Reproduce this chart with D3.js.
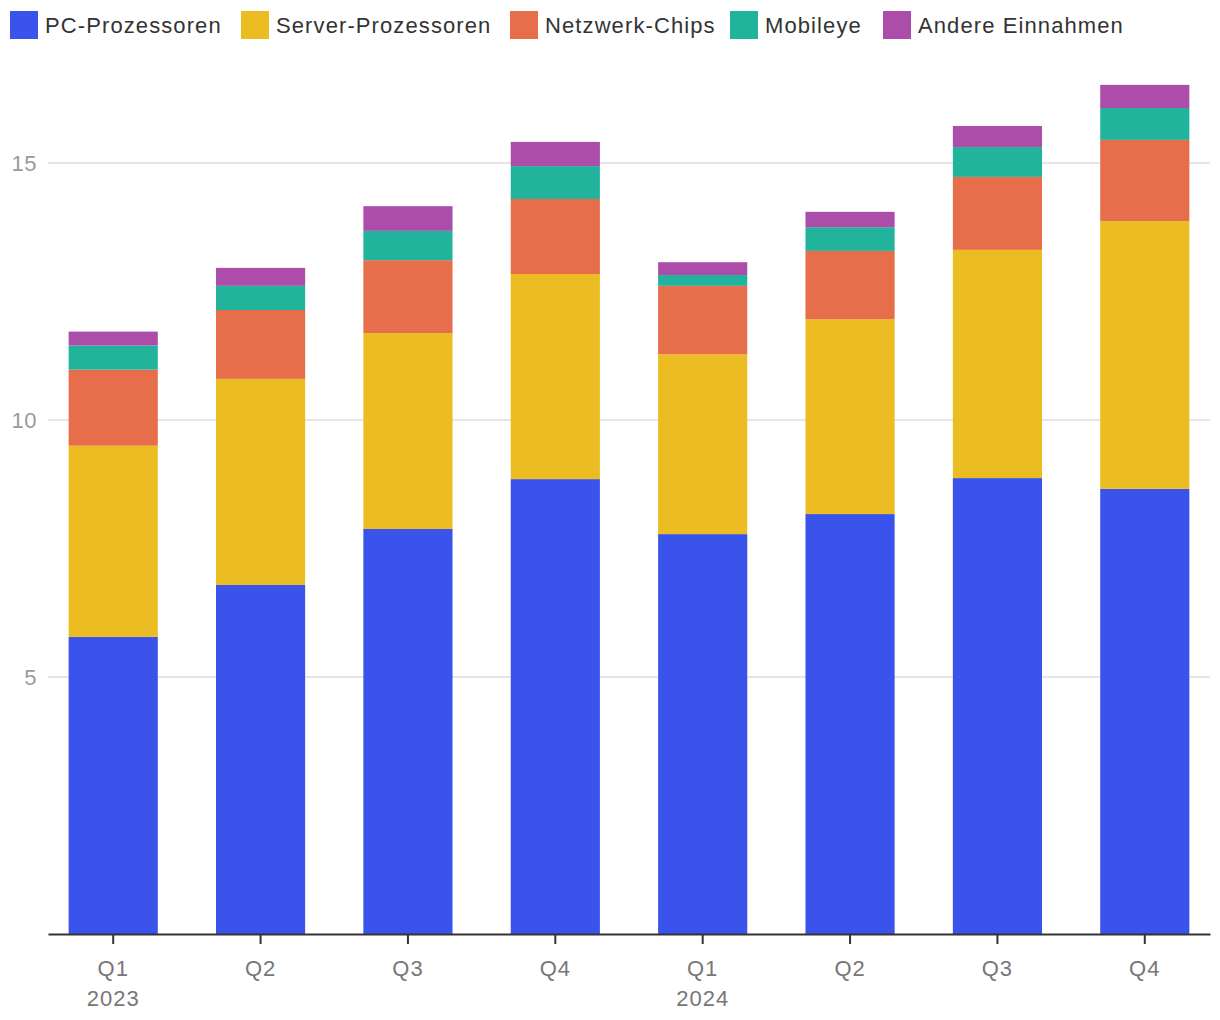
<!DOCTYPE html>
<html><head><meta charset="utf-8">
<script src="https://cdn.jsdelivr.net/npm/d3@7"></script>
<style>
body{margin:0;background:#fff;font-family:"Liberation Sans",Arial,Helvetica,sans-serif;}
</style></head><body>
<svg id="c" width="1220" height="1020"></svg>
<script>
const quarters = ["Q1","Q2","Q3","Q4","Q1","Q2","Q3","Q4"];
const years = ["2023","","","","2024","","",""];
const seriesNames = ["PC-Prozessoren","Server-Prozessoren","Netzwerk-Chips","Mobileye","Andere Einnahmen"];
const seriesColors = ["#3a53eb","#ebbd22","#e66e4a","#22b39d","#ab4da9"];
const pc      = [5.78, 6.79, 7.88, 8.85, 7.78, 8.17, 8.87, 8.66];
const server  = [3.72, 4.01, 3.81, 3.99, 3.50, 3.79, 4.44, 5.21];
const network = [1.48, 1.34, 1.42, 1.46, 1.33, 1.33, 1.42, 1.58];
const mobileye= [0.47, 0.47, 0.57, 0.64, 0.21, 0.46, 0.58, 0.62];
const other   = [0.27, 0.35, 0.48, 0.47, 0.25, 0.30, 0.41, 0.45];
const yTicks = [5, 10, 15];

const svg = d3.select("#c");
const margin = {left:48, right:10, top:60, bottom:86};
const W = 1220, H = 1020;
const x0 = margin.left, x1 = W - margin.right, yBot = H - margin.bottom;
const keys = ["pc","server","network","mobileye","other"];
const table = quarters.map((q,i)=>({i, pc:pc[i], server:server[i], network:network[i], mobileye:mobileye[i], other:other[i]}));
const stack = d3.stack().keys(keys)(table);

const x = d3.scaleBand().domain(d3.range(quarters.length)).range([x0, x1]).paddingInner(0.395).paddingOuter(0.14);
const y = d3.scaleLinear().domain([0, 17]).range([yBot, yBot - 17*51.4]);

// grid
const g = svg.append("g");
g.selectAll("line.grid").data(yTicks).join("line")
 .attr("x1", x0).attr("x2", x1).attr("y1", d=>y(d)).attr("y2", d=>y(d))
 .attr("stroke", "#e6e6e6").attr("stroke-width", 2);
g.selectAll("text.yl").data(yTicks).join("text")
 .attr("x", 37).attr("y", d=>y(d)).attr("dy","0.35em").attr("text-anchor","end")
 .attr("fill","#9a9a9a").attr("font-size", 22).attr("letter-spacing", 0.5).text(d=>d);

// bars
svg.append("g").selectAll("g").data(stack).join("g")
 .attr("fill", (d,i)=>seriesColors[i])
 .selectAll("rect").data(d=>d).join("rect")
 .attr("x", d=>x(d.data.i)).attr("width", x.bandwidth())
 .attr("y", d=>y(d[1])).attr("height", d=>y(d[0])-y(d[1]));

// x axis
const ax = svg.append("g").attr("transform", `translate(0,${yBot})`)
 .call(d3.axisBottom(x).tickSize(10).tickSizeOuter(0).tickFormat(i=>quarters[i]));
ax.select(".domain").attr("stroke","#333").attr("stroke-width",2);
ax.selectAll(".tick line").attr("stroke","#333").attr("stroke-width",2);
ax.selectAll(".tick text").attr("fill","#777").attr("font-size",22).attr("letter-spacing",1)
 .attr("font-family","'Liberation Sans',Arial,sans-serif").attr("y", 26);
ax.selectAll(".tick").append("text").attr("fill","#777").attr("font-size",22).attr("letter-spacing",1)
 .attr("font-family","'Liberation Sans',Arial,sans-serif")
 .attr("y", 56).attr("dy","0.71em").attr("text-anchor","middle").text(i=>years[i]);

// legend
const legX = [10, 241, 510, 730, 883];
const leg = svg.append("g").selectAll("g").data(seriesNames).join("g")
 .attr("transform",(d,i)=>`translate(${legX[i]},11)`);
leg.append("rect").attr("width",28).attr("height",28).attr("fill",(d,i)=>seriesColors[i]);
leg.append("text").attr("x",35).attr("y",14).attr("dy","0.35em").attr("font-size",22)
 .attr("letter-spacing",1.1).attr("fill","#333").text(d=>d);
</script>
</body></html>
